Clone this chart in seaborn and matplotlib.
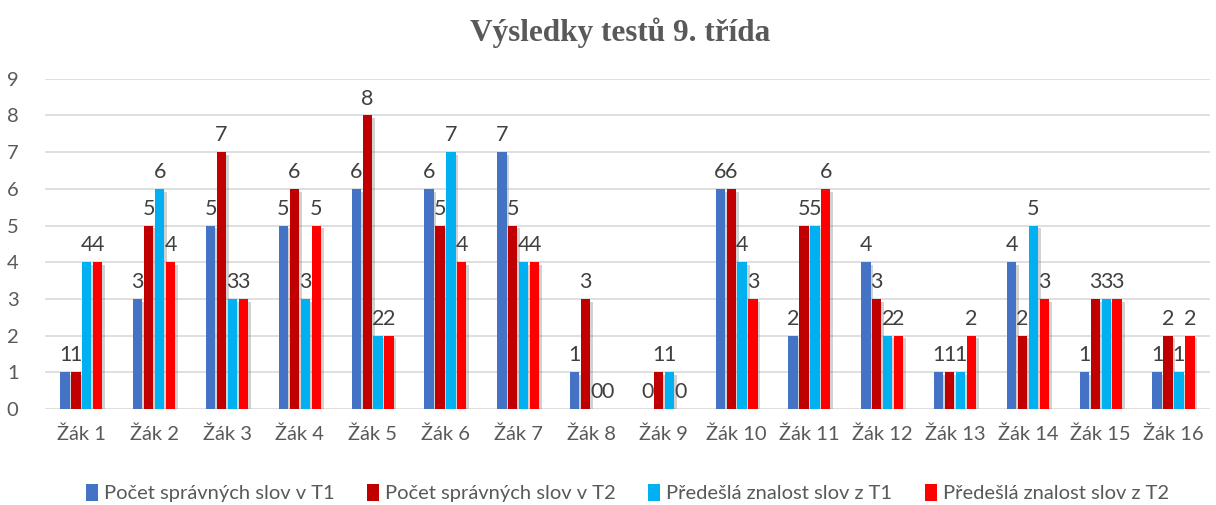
import pandas as pd
import matplotlib.pyplot as plt
import matplotlib.patheffects as pe
import seaborn as sns

# values
students = ['Žák %d' % i for i in range(1, 17)]
correct_t1 = [1, 3, 5, 5, 6, 6, 7, 1, 0, 6, 2, 4, 1, 4, 1, 1]
correct_t2 = [1, 5, 7, 6, 8, 5, 5, 3, 1, 6, 5, 3, 1, 2, 3, 2]
prior_t1 = [4, 6, 3, 3, 2, 7, 4, 0, 1, 4, 5, 2, 1, 5, 3, 1]
prior_t2 = [4, 4, 3, 5, 2, 4, 4, 0, 0, 3, 6, 2, 2, 3, 3, 2]

series_names = ['Počet správných slov v T1', 'Počet správných slov v T2',
                'Předešlá znalost slov z T1', 'Předešlá znalost slov z T2']
colors = ['#4472C4', '#C00000', '#00B0F0', '#FF0000']

rows = []
for name, vals in zip(series_names, [correct_t1, correct_t2, prior_t1, prior_t2]):
    for s, v in zip(students, vals):
        rows.append({'student': s, 'series': name, 'value': v})
df = pd.DataFrame(rows)

sns.set_style('white')
plt.rcParams['font.family'] = ['Lato', 'DejaVu Sans']

fig = plt.figure(figsize=(12.16, 5.05), dpi=100)
ax = fig.add_axes([0.037, 0.19, 0.958, 0.654])

sns.barplot(data=df, x='student', y='value', hue='series', palette=colors,
            saturation=1, width=0.6, gap=0.15, errorbar=None, linewidth=0,
            ax=ax, zorder=3)

# soft drop shadow like the original office chart
shadow = [pe.SimplePatchShadow(offset=(2, -2), shadow_rgbFace='#7f7f7f', alpha=0.35),
          pe.Normal()]
for cont in ax.containers:
    for bar in cont:
        bar.set_path_effects(shadow)
    ax.bar_label(cont, fmt='%g', padding=5, fontsize=15.5, color='#404040')

ax.set_ylim(0, 9)
ax.set_yticks(range(10))
ax.set_xlim(-0.5, 15.5)
ax.grid(axis='y', color='#D9D9D9', linewidth=1.2, zorder=0)
for sp in ax.spines.values():
    sp.set_visible(False)
ax.tick_params(axis='x', length=0, pad=12, labelsize=14.5, labelcolor='#595959')
ax.tick_params(axis='y', length=0, pad=19, labelsize=14.5, labelcolor='#595959')
ax.set_xlabel('')
ax.set_ylabel('')

fig.suptitle('Výsledky testů 9. třída', x=0.51, y=0.965, fontsize=22.5,
             fontweight='bold', color='#595959', family='Liberation Serif')

ax.legend(loc='center', bbox_to_anchor=(0.5, -0.255), ncol=4, frameon=False,
          fontsize=14.5, handlelength=0.6, handleheight=0.9, handletextpad=0.3,
          columnspacing=1.6, labelcolor='#595959')

fig.savefig('out.png', dpi=100)
